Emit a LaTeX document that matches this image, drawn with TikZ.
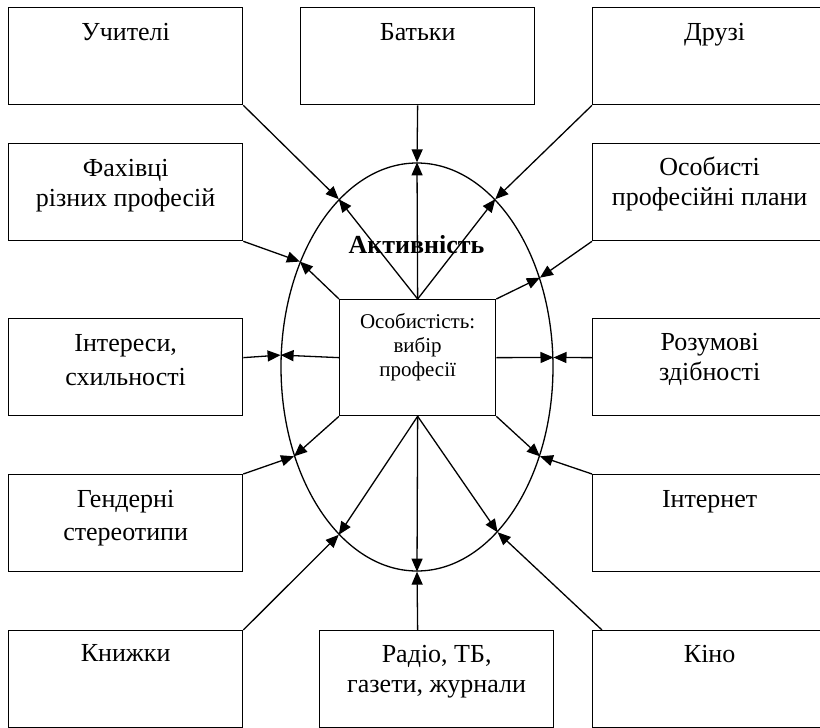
\documentclass[tikz,border=0pt]{standalone}
\usepackage{fontspec}
\setmainfont{Liberation Serif}
\usetikzlibrary{shapes.geometric,arrows.meta}
\begin{document}
\begin{tikzpicture}[x=1pt,y=-1pt,line width=1.3pt,
  box/.style={draw, rectangle, inner sep=0pt, minimum width=234pt, minimum height=97pt,
    align=center, font=\fontsize{26}{30}\selectfont, anchor=north west},
  one/.style={text height=33pt, text depth=64pt},
  two/.style={text height=63pt, text depth=34pt},
  arr/.style={-{Triangle[length=13pt,width=11pt]}},
]
\clip (0,0) rectangle (820,728);
% left column
\node[box,one] (uch) at (8,7) {Учителі};
\node[box,two] (fah) at (8,143) {Фахівці\\різних професій};
\node[box,text height=67pt,text depth=30pt] (inte) at (8,318) {Інтереси,\\[4pt]схильності};
\node[box,text height=66pt,text depth=31pt] (gen) at (8,474) {Гендерні\\[3pt]стереотипи};
\node[box,text height=31pt,text depth=66pt] (kn) at (8,630) {Книжки};
% centre column
\node[box,one] (bat) at (300,7) {Батьки};
\node[box,text height=62pt,text depth=35pt] (rad) at (319,630) {Радіо, ТБ,\\газети, журнали};
% right column
\node[box,one] (dru) at (592,7) {\hspace*{10pt}Друзі};
\node[box,text height=62pt,text depth=35pt] (osp) at (592,143) {Особисті\\професійні плани};
\node[box,text height=62pt,text depth=35pt] (roz) at (592,318) {Розумові\\здібності};
\node[box,text height=33pt,text depth=64pt] (inet) at (592,474) {Інтернет};
\node[box,text height=32pt,text depth=65pt] (kino) at (592,630) {Кіно};
% ellipse and centre
\node[draw, ellipse, inner sep=0pt, minimum width=272pt, minimum height=408pt] (E) at (417,367) {};
\node[draw, rectangle, inner sep=0pt, minimum width=156pt, minimum height=116pt, anchor=north west,
  align=center, font=\fontsize{21}{24}\selectfont, text height=77pt, text depth=39pt]
  (ob) at (339,299) {Особистість:\\вибір\\професії};
\node[font=\bfseries\fontsize{26}{30}\selectfont, anchor=base, inner sep=0pt] (akt) at (416.5,253) {Активність};
% connectors
\draw[arr] (uch.south east) -- (E.115);
\draw[arr] (ob.north) -- (E.115);
\draw[arr] (fah.south east) -- (E.138);
\draw[arr] (ob.north west) -- (E.138);
\draw[arr] (bat.south) -- (E.90);
\draw[arr] (ob.north) -- (E.90);
\draw[arr] (dru.south west) -- (E.65);
\draw[arr] (ob.north) -- (E.65);
\draw[arr] (osp.south west) -- (E.36);
\draw[arr] (ob.north east) -- (E.36);
\coordinate (eL) at (E.175.8);
\coordinate (eR) at (E.4.2);
\draw[arr] (ob.west -| inte.east) -- (eL);
\draw[arr] (ob.west) -- (eL);
\draw[arr] (ob.east -| roz.west) -- (eR);
\draw[arr] (ob.east) -- (eR);
\draw[arr] (gen.north east) -- (E.216);
\draw[arr] (ob.south west) -- (E.216);
\draw[arr] (inet.north west) -- (E.324);
\draw[arr] (ob.south east) -- (E.324);
\draw[arr] (kn.north east) -- (E.245);
\draw[arr] (ob.south) -- (E.245);
\draw[arr] ([xshift=10pt]kino.north west) -- (E.296);
\draw[arr] (ob.south) -- (E.296);
\draw[arr] (ob.south |- rad.north) -- (E.270);
\draw[arr] (ob.south) -- (E.270);
\end{tikzpicture}
\end{document}
